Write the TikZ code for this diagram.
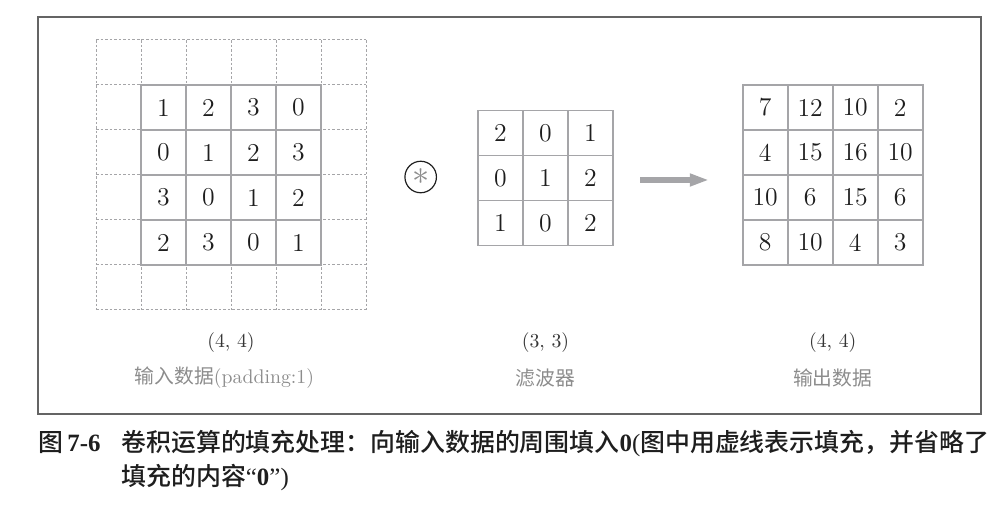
\documentclass[tikz,border=0pt]{standalone}
\usepackage{fontspec}
\newfontfamily\cjk{Noto Sans CJK SC}
\newfontfamily\cjkm{Noto Sans CJK SC Medium}
\newfontfamily\capser{Liberation Serif}
\usepackage{tikz}
\definecolor{cvgrid}{RGB}{165,165,168}
\definecolor{cvframe}{RGB}{100,100,100}
\definecolor{cvlabel}{RGB}{140,140,140}
\definecolor{cvtext}{RGB}{30,30,30}
\usetikzlibrary{arrows.meta,positioning}

\begin{document}
\begin{tikzpicture}[
  cell/.style={draw=cvgrid,line width=0.8pt,minimum size=0.8cm,inner sep=0pt,text=cvtext,font=\fontsize{13}{15}\selectfont},
  pad/.style={cvgrid,line width=0.5pt,dash pattern=on 1.3pt off 1pt},
  dims/.style={font=\fontsize{10}{12}\selectfont,text=cvtext!90},
  lbl/.style={font=\fontsize{10}{12}\selectfont,text=cvlabel},
  capline/.style={anchor=base west,inner sep=0pt,text=cvtext,font=\fontsize{12.6}{17}\selectfont}]
  \useasboundingbox (0,0) rectangle (17.636,-8.978);
  % Frame
  \draw[cvframe,line width=0.9pt] (0.676,-0.302) rectangle (17.44,-7.36);
  % Padding of the input (dashed)
  \foreach \k in {0,...,6}{
    \draw[pad] (1.707+0.8*\k,-0.711) -- (1.707+0.8*\k,-5.511);
    \draw[pad] (1.707,-0.711-0.8*\k) -- (6.507,-0.711-0.8*\k);
  }
  % Input data
  \foreach \row [count=\r] in {{1,2,3,0},{0,1,2,3},{3,0,1,2},{2,3,0,1}}
    \foreach \v [count=\c] in \row
      \node[cell,fill=white] (in-\r-\c) at (2.107+0.8*\c,-1.111-0.8*\r) {\v};
  % Convolution sign
  \node[circle,draw=cvtext,line width=0.6pt,minimum size=0.56cm,inner sep=0pt,text=cvlabel,font=\fontsize{17}{17}\selectfont] (conv) at (7.479,-3.147) {$\ast$};
  % Filter
  \foreach \row [count=\r] in {{2,0,1},{0,1,2},{1,0,2}}
    \foreach \v [count=\c] in \row
      \node[cell] (flt-\r-\c) at (8.098+0.8*\c,-1.568-0.8*\r) {\v};
  % Arrow
  \coordinate (arrS) at (11.378,-3.2);
  \coordinate (arrE) at (12.604,-3.2);
  \draw[-{Triangle[length=0.34cm,width=0.21cm]},cvgrid,line width=0.09cm] (arrS) -- (arrE);
  % Output data
  \foreach \row [count=\r] in {{7,12,10,2},{4,15,16,10},{10,6,15,6},{8,10,4,3}}
    \foreach \v [count=\c] in \row
      \node[cell] (out-\r-\c) at (12.804+0.8*\c,-1.111-0.8*\r) {\v};
  % Shapes and names
  \node[dims] (inDim) at (4.107,-6.098) {(4, 4)};
  \node[lbl] (inName) at (3.99,-6.72) {{\cjk 输入数据}(padding:1)};
  \node[dims] (fltDim) at (9.698,-6.098) {(3, 3)};
  \node[lbl] (fltName) at (9.698,-6.72) {\cjk 滤波器};
  \node[dims] (outDim) at (14.804,-6.098) {(4, 4)};
  \node[lbl] (outName) at (14.804,-6.72) {\cjk 输出数据};
  % Caption
  \node[capline] (capNum) at (0.676,-8.03) {{\cjkm 图}\,{\capser\bfseries 7-6}};
  \node[capline] (cap1) at (2.151,-8.03) {{\cjkm 卷积运算的填充处理：向输入数据的周围填入}{\capser\bfseries 0}{\capser (}{\cjkm 图中用虚线表示填充，并省略了}};
  \node[capline] (cap2) at ([yshift=-0.604cm]cap1.base west) {{\cjkm 填充的内容}{\capser “\textbf{0}”)}};
\end{tikzpicture}
\end{document}
